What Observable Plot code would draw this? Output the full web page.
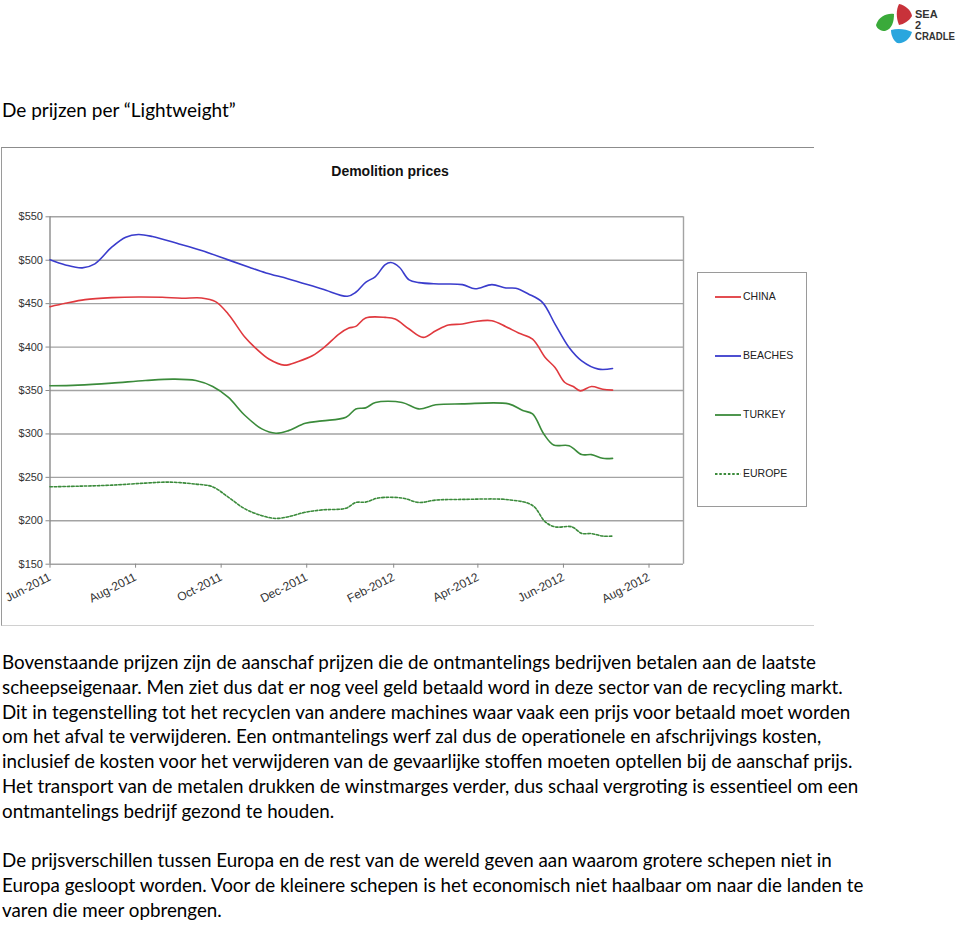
<!DOCTYPE html>
<html><head><meta charset="utf-8">
<script src="https://cdn.jsdelivr.net/npm/d3@7"></script>
<script src="https://cdn.jsdelivr.net/npm/@observablehq/plot@0.6"></script>
<style>
body{margin:0;width:960px;height:925px;position:relative;background:#fff;overflow:hidden;font-family:Lato,"Open Sans",sans-serif;color:#000;}
#heading{position:absolute;left:2px;top:98px;font-size:19px;white-space:nowrap;}
#frame{position:absolute;left:1px;top:147px;width:812px;height:477px;border-top:1.5px solid #8c8c8c;border-left:1.5px solid #9a9a9a;border-bottom:1.5px solid #d0d0d0;}
#chart{position:absolute;left:0;top:148px;}
#ctitle{position:absolute;left:0;width:780px;top:163px;text-align:center;font:bold 14px "Liberation Sans",Arial,sans-serif;color:#111;}
#legend{position:absolute;left:697px;top:272px;width:110px;height:235px;border:1.3px solid #9a9a9a;box-sizing:border-box;}
.li{position:absolute;left:17px;font:10.5px "Liberation Sans",Arial,sans-serif;color:#222;white-space:nowrap;}
.li svg{vertical-align:middle;margin-right:2px;}
#text{position:absolute;left:2px;top:650px;font-size:18.8px;line-height:24.75px;}
#text div{white-space:nowrap;height:24.75px;}
#logo{position:absolute;left:872px;top:1px;}
</style></head><body>
<svg id="logo" width="86" height="46">
  <path d="M4,24 C7,15 15,12 22,13 C22,21 20,28 13,30 C9,30 5,28 4,24 Z" fill="#3aaa3a"/>
  <path d="M27,3 C33,4 39,9 40,15 C37,20 32,23 27,24 C24,17 24,9 27,3 Z" fill="#c8323a"/>
  <path d="M19,29 C26,27 34,28 40,31 C38,38 32,43 25,42 C21,39 19,34 19,29 Z" fill="#2aa6de"/>
  <text x="43" y="17" font-family="Liberation Sans,Arial" font-weight="bold" font-size="11" fill="#333">SEA</text>
  <text x="43" y="28" font-family="Liberation Sans,Arial" font-weight="bold" font-size="11" fill="#333">2</text>
  <text x="43" y="39" font-family="Liberation Sans,Arial" font-weight="bold" font-size="10.5" fill="#333" textLength="40" lengthAdjust="spacingAndGlyphs">CRADLE</text>
</svg>
<div id="heading">De prijzen per “Lightweight”</div>
<div id="frame"></div>
<div id="chart"></div>
<div id="ctitle">Demolition prices</div>
<div id="legend"></div>
<div id="text"></div>
<script>
// ---- data ----
const seriesNames = ["CHINA", "BEACHES", "TURKEY", "EUROPE"];
const seriesColors = ["#e0393e", "#3a3ccc", "#3b8b3b", "#3b8b3b"];
const seriesDash = [null, null, null, "2.5,1.8"];

const chinaDates = ["2011-06-01","2011-06-12","2011-06-26","2011-07-15","2011-08-03","2011-08-20","2011-09-03","2011-09-17","2011-09-27","2011-10-06","2011-10-18","2011-10-25","2011-11-04","2011-11-15","2011-11-25","2011-12-05","2011-12-14","2011-12-24","2011-12-31","2012-01-05","2012-01-12","2012-01-26","2012-02-02","2012-02-12","2012-02-22","2012-03-02","2012-03-11","2012-03-21","2012-03-30","2012-04-11","2012-04-21","2012-04-30","2012-05-10","2012-05-19","2012-05-26","2012-06-02","2012-06-08","2012-06-13","2012-06-21","2012-06-29","2012-07-06"];
const chinaValues = [446.5,450.4,454.6,456.9,457.7,457.3,456.2,456.5,452.3,438.1,411.2,399.6,386.2,379.2,383.5,390,400.4,415,421.9,423.8,433.5,434.2,432.3,420.8,411.2,418.8,425.4,426.5,429.5,430.4,423.5,416.2,409.2,388.1,376.5,359.2,354.6,349.6,354.6,351.5,350.4];

const beachesDates = ["2011-06-01","2011-06-12","2011-06-24","2011-07-03","2011-07-15","2011-07-25","2011-08-03","2011-08-13","2011-09-01","2011-09-17","2011-10-06","2011-10-21","2011-11-02","2011-11-18","2011-12-12","2011-12-30","2012-01-05","2012-01-12","2012-01-19","2012-01-26","2012-01-30","2012-02-05","2012-02-12","2012-02-19","2012-03-04","2012-03-21","2012-03-30","2012-04-11","2012-04-21","2012-04-28","2012-05-07","2012-05-17","2012-05-26","2012-06-05","2012-06-14","2012-06-26","2012-07-06"];
const beachesValues = [500.5,494.6,491.2,495.8,515,526.5,529.6,527.3,518.8,511.2,500.4,491.9,485.4,478.5,466.9,458.5,463.1,474.6,481.2,495,497.3,491.9,477.3,474.2,472.7,471.9,467.1,471.9,468.1,467.7,461.2,451.5,426.5,399.6,384.2,374.6,375.3];

const turkeyDates = ["2011-06-01","2011-06-21","2011-07-15","2011-08-08","2011-08-28","2011-09-13","2011-09-25","2011-10-06","2011-10-18","2011-10-30","2011-11-09","2011-11-18","2011-11-30","2011-12-12","2011-12-29","2012-01-05","2012-01-12","2012-01-19","2012-02-07","2012-02-19","2012-03-02","2012-03-21","2012-04-23","2012-05-03","2012-05-10","2012-05-18","2012-05-25","2012-06-05","2012-06-14","2012-06-21","2012-06-29","2012-07-06"];
const turkeyValues = [355.4,356.2,358.5,361.5,363.1,361.5,354.6,342.3,321.2,305.8,300.8,303.8,312.3,315,319.2,328.8,330,336.2,336.2,328.8,333.5,334.6,334.6,326.9,323.1,300,287.3,286.5,276.2,276.2,271.9,271.9];

const europeDates = ["2011-06-01","2011-06-21","2011-07-15","2011-08-08","2011-08-25","2011-09-13","2011-09-25","2011-10-06","2011-10-18","2011-10-30","2011-11-09","2011-11-18","2011-11-30","2011-12-12","2011-12-29","2012-01-05","2012-01-12","2012-01-21","2012-02-07","2012-02-19","2012-03-02","2012-03-21","2012-04-23","2012-05-10","2012-05-19","2012-05-26","2012-06-07","2012-06-14","2012-06-21","2012-06-29","2012-07-06"];
const europeValues = [239.1,239.8,241,243.4,244.5,242.2,239.1,227.3,213.7,205.9,202.7,204.7,209.8,212.5,214.5,221.1,221.5,226.2,226.2,221.1,223.8,224.6,224.2,217.6,198.8,193,193,185.5,185.2,182.4,182.4];

const yTicks = [150, 200, 250, 300, 350, 400, 450, 500, 550];
const xTicks = ["2011-06-01","2011-08-01","2011-10-01","2011-12-01","2012-02-01","2012-04-01","2012-06-01","2012-08-01"];
const xDomain = ["2011-06-01", "2012-08-25T14:00:00Z"];

const bodyLines = [
  "Bovenstaande prijzen zijn de aanschaf prijzen die de ontmantelings bedrijven betalen aan de laatste",
  "scheepseigenaar. Men ziet dus dat er nog veel geld betaald word in deze sector van de recycling markt.",
  "Dit in tegenstelling tot het recyclen van andere machines waar vaak een prijs voor betaald moet worden",
  "om het afval te verwijderen. Een ontmantelings werf zal dus de operationele en afschrijvings kosten,",
  "inclusief de kosten voor het verwijderen van de gevaarlijke stoffen moeten optellen bij de aanschaf prijs.",
  "Het transport van de metalen drukken de winstmarges verder, dus schaal vergroting is essentieel om een",
  "ontmantelings bedrijf gezond te houden.",
  "",
  "De prijsverschillen tussen Europa en de rest van de wereld geven aan waarom grotere schepen niet in",
  "Europa gesloopt worden. Voor de kleinere schepen is het economisch niet haalbaar om naar die landen te",
  "varen die meer opbrengen."
];

// ---- build ----
const seriesData = [
  [chinaDates, chinaValues],
  [beachesDates, beachesValues],
  [turkeyDates, turkeyValues],
  [europeDates, europeValues]
].map(([ds, vs], i) => ds.map((d, j) => ({series: seriesNames[i], date: new Date(d), value: vs[j]})));

const fmt = d3.utcFormat("%b-%Y");
const axisFont = {fontFamily: "Liberation Sans, Arial, sans-serif"};

const chart = Plot.plot({
  width: 813,
  height: 477,
  marginLeft: 49.5,
  marginRight: 130,
  marginTop: 68.3,
  marginBottom: 61.3,
  style: {background: "transparent", overflow: "visible", color: "#333"},
  x: {type: "utc", domain: xDomain.map(d => new Date(d)), label: null},
  y: {domain: [150, 550], label: null},
  marks: [
    Plot.ruleY(yTicks, {stroke: "#a3a3a3", strokeWidth: 1.4}),
    Plot.ruleX([new Date(xDomain[1])], {stroke: "#a3a3a3", strokeWidth: 1.4}),
    Plot.ruleX([new Date(xDomain[0])], {stroke: "#8a8a8a", strokeWidth: 1.4}),
    Plot.axisY({ticks: yTicks, tickFormat: d => "$" + d, tickSize: 4, tickPadding: 3, stroke: "#8a8a8a", ...axisFont, fontSize: 11, fill: "#333", label: null}),
    Plot.axisX({ticks: xTicks.map(d => new Date(d)), tickFormat: fmt, tickRotate: -27, tickSize: 4, tickPadding: 8, stroke: "#8a8a8a", ...axisFont, fontSize: 12, fill: "#333", label: null}),
    ...seriesNames.map((name, i) => Plot.line(seriesData[i], {
      x: "date", y: "value", stroke: seriesColors[i], strokeWidth: 1.6,
      strokeDasharray: seriesDash[i] || undefined, curve: "catmull-rom"
    }))
  ]
});
document.getElementById("chart").appendChild(chart);

// legend
const legend = document.getElementById("legend");
const legendTops = [24, 83, 142, 201];
seriesNames.forEach((name, i) => {
  const el = document.createElement("div");
  el.className = "li";
  el.style.top = (legendTops[i] - 7) + "px";
  el.innerHTML = `<svg width="26" height="4"><line x1="0" x2="26" y1="2" y2="2" stroke="${seriesColors[i]}" stroke-width="1.8" ${seriesDash[i] ? `stroke-dasharray="${seriesDash[i]}"` : ""}/></svg>${name}`;
  legend.appendChild(el);
});

// body text
const text = document.getElementById("text");
bodyLines.forEach(l => {
  const el = document.createElement("div");
  el.textContent = l;
  text.appendChild(el);
});
</script>
</body></html>
